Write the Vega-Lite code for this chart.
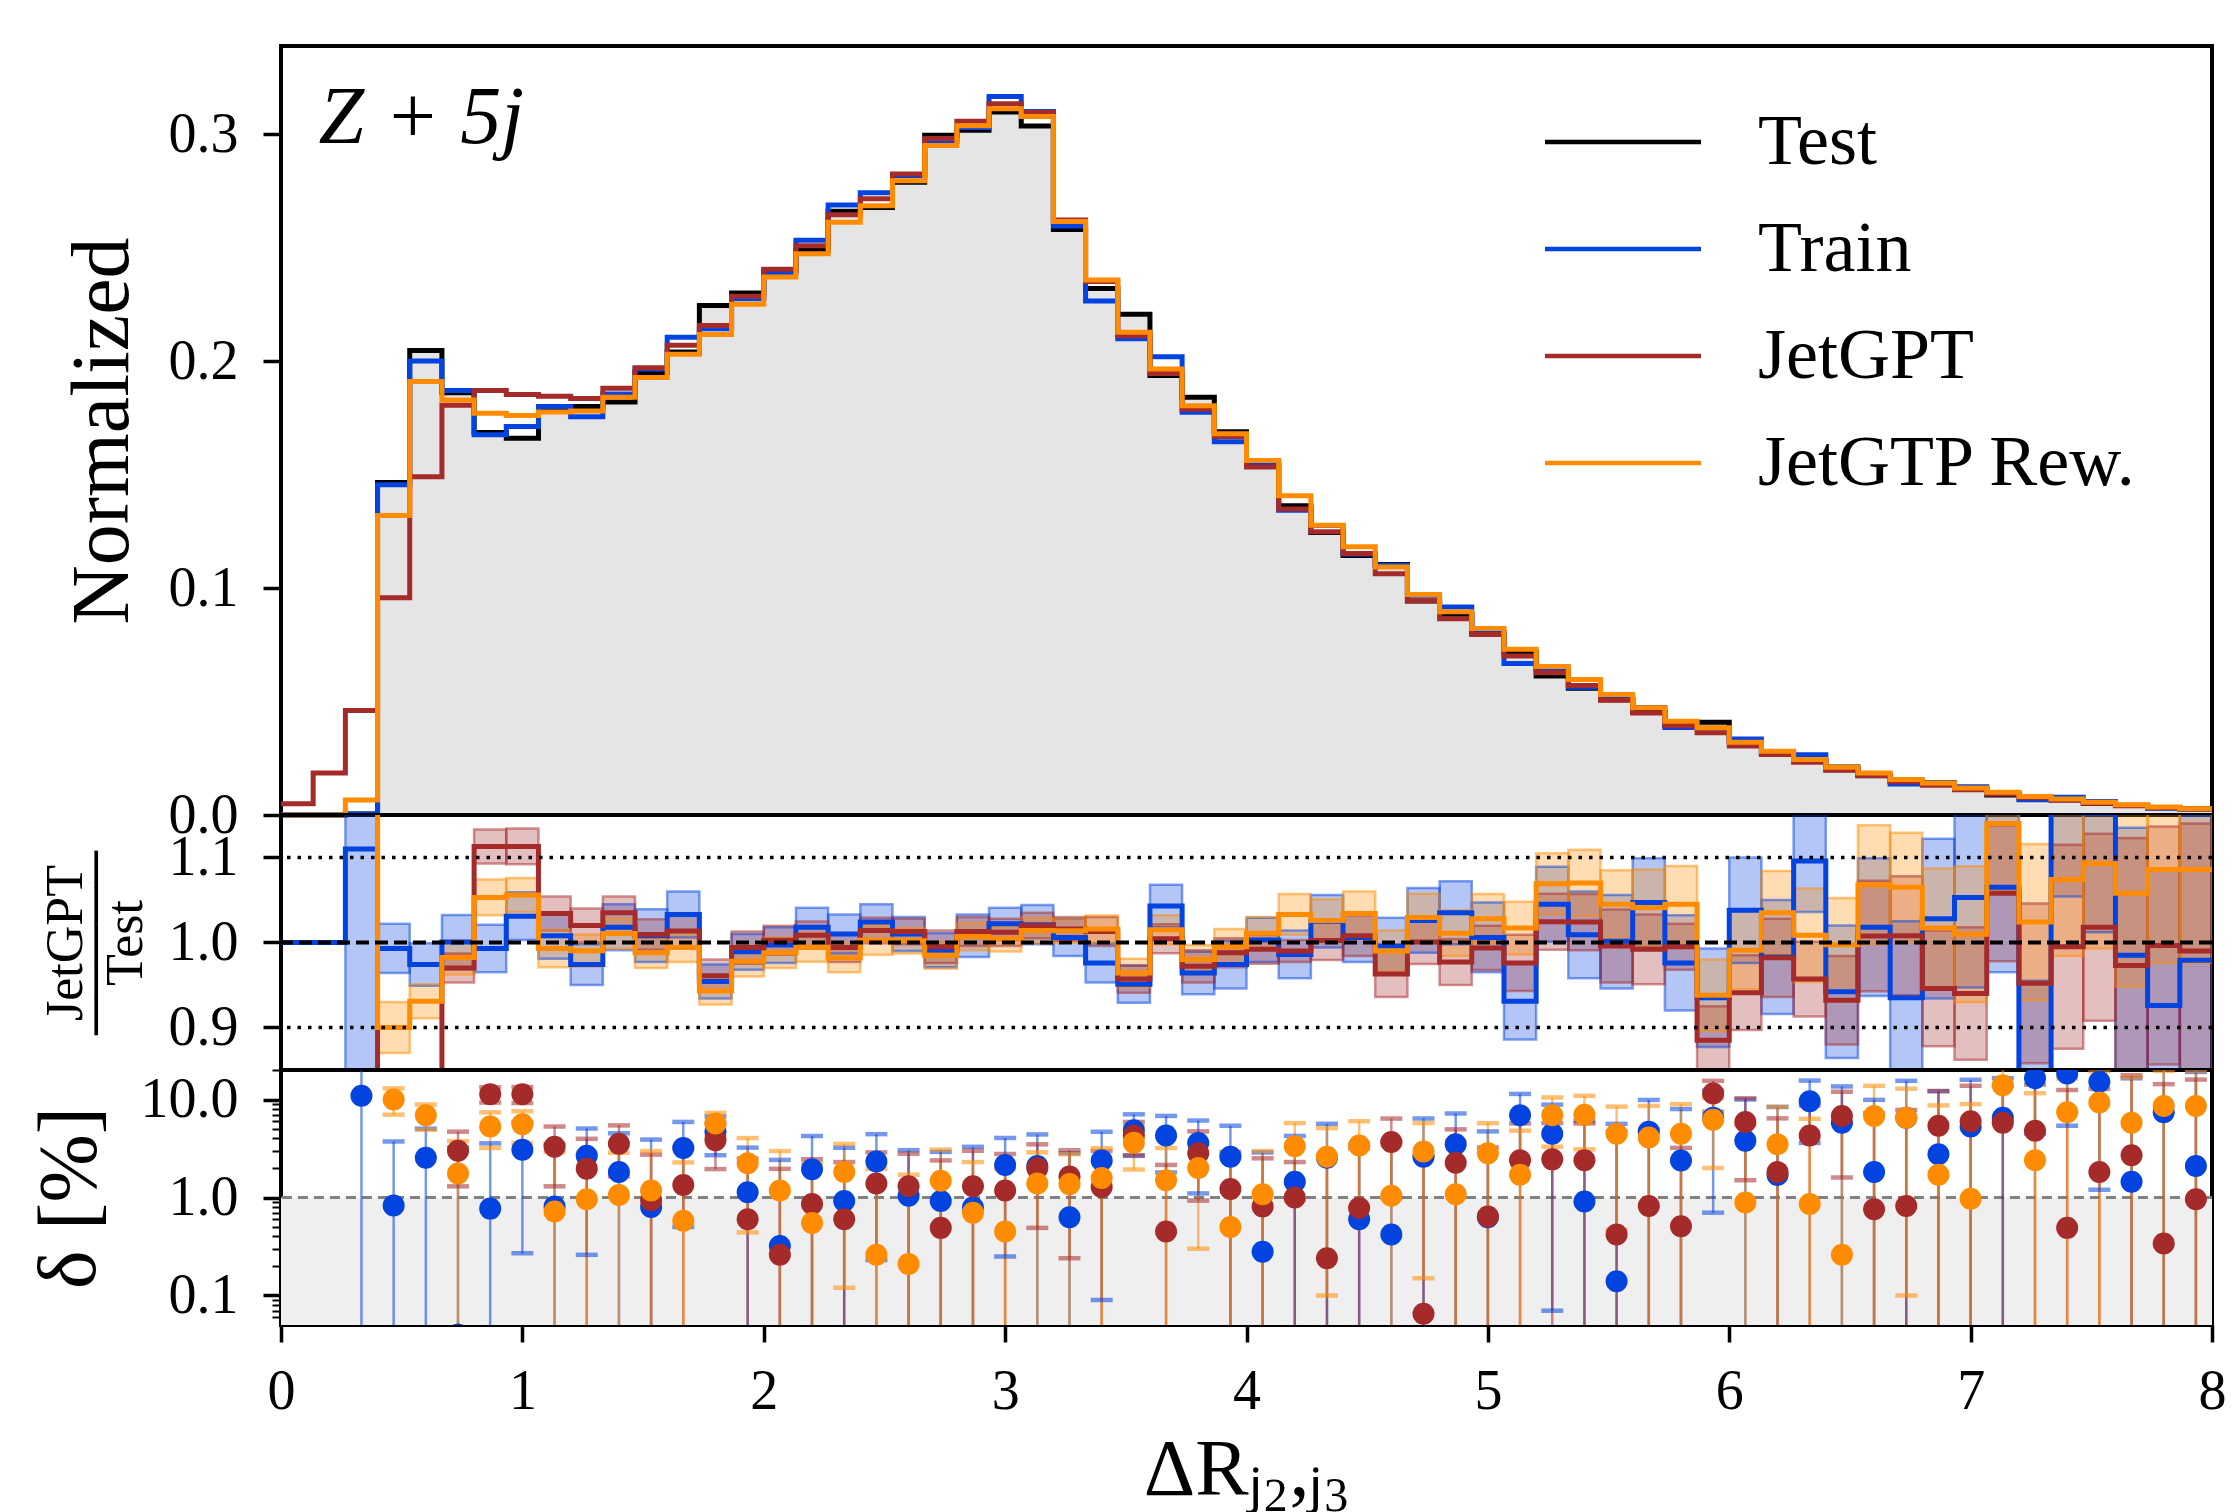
{
"$schema":"https://vega.github.io/schema/vega-lite/v6.json",
"background":"white",
"padding":{"left":26,"top":44,"right":21,"bottom":0},
"spacing":0,
"bounds":"flush",
"config":{
 "font":"Liberation Serif",
 "view":{"stroke":"black","strokeWidth":4},
 "axis":{"labelFont":"Liberation Serif","titleFont":"Liberation Serif","labelFontSize":56,"labelColor":"black","titleColor":"black","titleFontWeight":"normal","tickColor":"black","tickWidth":3.5,"tickSize":18,"domain":false,"grid":false,"labelPadding":25,"labelFlush":false,"labelOverlap":false},
 "legend":{"labelFont":"Liberation Serif","labelColor":"black"}
},
"resolve":{"scale":{"x":"shared","y":"independent","color":"independent"},"legend":{"color":"independent"}},
"datasets":{
"h":[
{"x":0,"Test":0,"Train":0,"JetGPT":0.005,"Rew":0},
{"x":0.1333,"Test":0,"Train":0,"JetGPT":0.0185,"Rew":0},
{"x":0.2667,"Test":0.0004,"Train":0.0004,"JetGPT":0.046,"Rew":0.0066},
{"x":0.4,"Test":0.1465,"Train":0.1455,"JetGPT":0.0957,"Rew":0.132},
{"x":0.5333,"Test":0.2047,"Train":0.2,"JetGPT":0.149,"Rew":0.191},
{"x":0.6667,"Test":0.186,"Train":0.187,"JetGPT":0.1805,"Rew":0.1828},
{"x":0.8,"Test":0.1685,"Train":0.1675,"JetGPT":0.187,"Rew":0.177},
{"x":0.9333,"Test":0.166,"Train":0.1712,"JetGPT":0.1853,"Rew":0.176},
{"x":1.0667,"Test":0.1787,"Train":0.18,"JetGPT":0.1845,"Rew":0.1775},
{"x":1.2,"Test":0.18,"Train":0.1755,"JetGPT":0.1835,"Rew":0.178},
{"x":1.3333,"Test":0.182,"Train":0.1855,"JetGPT":0.188,"Rew":0.184},
{"x":1.4667,"Test":0.195,"Train":0.1965,"JetGPT":0.197,"Rew":0.1927},
{"x":1.6,"Test":0.204,"Train":0.2105,"JetGPT":0.207,"Rew":0.203},
{"x":1.7333,"Test":0.2245,"Train":0.2142,"JetGPT":0.2157,"Rew":0.2117},
{"x":1.8667,"Test":0.23,"Train":0.2275,"JetGPT":0.2286,"Rew":0.225},
{"x":2.0,"Test":0.2398,"Train":0.239,"JetGPT":0.2404,"Rew":0.237},
{"x":2.1333,"Test":0.2487,"Train":0.2532,"JetGPT":0.2508,"Rew":0.2473},
{"x":2.2667,"Test":0.266,"Train":0.2687,"JetGPT":0.2645,"Rew":0.2612},
{"x":2.4,"Test":0.2677,"Train":0.2742,"JetGPT":0.2715,"Rew":0.2684},
{"x":2.5333,"Test":0.2788,"Train":0.2816,"JetGPT":0.2824,"Rew":0.2794},
{"x":2.6667,"Test":0.2995,"Train":0.2968,"JetGPT":0.298,"Rew":0.295},
{"x":2.8,"Test":0.3017,"Train":0.3029,"JetGPT":0.3056,"Rew":0.3037},
{"x":2.9333,"Test":0.3097,"Train":0.3165,"JetGPT":0.3134,"Rew":0.3111},
{"x":3.0667,"Test":0.3035,"Train":0.3099,"JetGPT":0.3096,"Rew":0.3077},
{"x":3.2,"Test":0.258,"Train":0.2595,"JetGPT":0.2621,"Rew":0.2615},
{"x":3.3333,"Test":0.232,"Train":0.2264,"JetGPT":0.235,"Rew":0.2357},
{"x":3.4667,"Test":0.2206,"Train":0.2098,"JetGPT":0.2111,"Rew":0.2127},
{"x":3.6,"Test":0.1936,"Train":0.2019,"JetGPT":0.1945,"Rew":0.1965},
{"x":3.7333,"Test":0.184,"Train":0.1774,"JetGPT":0.1788,"Rew":0.1803},
{"x":3.8667,"Test":0.1688,"Train":0.1644,"JetGPT":0.1668,"Rew":0.168},
{"x":4.0,"Test":0.1545,"Train":0.155,"JetGPT":0.1533,"Rew":0.1562},
{"x":4.1333,"Test":0.1362,"Train":0.1343,"JetGPT":0.1348,"Rew":0.1407},
{"x":4.2667,"Test":0.1245,"Train":0.1276,"JetGPT":0.1248,"Rew":0.1277},
{"x":4.4,"Test":0.1143,"Train":0.115,"JetGPT":0.1152,"Rew":0.1182},
{"x":4.5333,"Test":0.1104,"Train":0.11,"JetGPT":0.1063,"Rew":0.1093},
{"x":4.6667,"Test":0.0943,"Train":0.0968,"JetGPT":0.0944,"Rew":0.0971},
{"x":4.8,"Test":0.0885,"Train":0.0916,"JetGPT":0.0865,"Rew":0.0895},
{"x":4.9333,"Test":0.08,"Train":0.0805,"JetGPT":0.0795,"Rew":0.0822},
{"x":5.0667,"Test":0.0718,"Train":0.0668,"JetGPT":0.0701,"Rew":0.073},
{"x":5.2,"Test":0.0612,"Train":0.064,"JetGPT":0.0627,"Rew":0.0654},
{"x":5.3333,"Test":0.0558,"Train":0.0563,"JetGPT":0.0571,"Rew":0.0597},
{"x":5.4667,"Test":0.0508,"Train":0.0509,"JetGPT":0.0506,"Rew":0.0531},
{"x":5.6,"Test":0.0453,"Train":0.0474,"JetGPT":0.0449,"Rew":0.0472},
{"x":5.7333,"Test":0.0395,"Train":0.0386,"JetGPT":0.0393,"Rew":0.0413},
{"x":5.8667,"Test":0.0409,"Train":0.0382,"JetGPT":0.0362,"Rew":0.0384},
{"x":6.0,"Test":0.0323,"Train":0.0335,"JetGPT":0.0304,"Rew":0.032},
{"x":6.1333,"Test":0.0271,"Train":0.0266,"JetGPT":0.0266,"Rew":0.0281},
{"x":6.2667,"Test":0.0242,"Train":0.0265,"JetGPT":0.0232,"Rew":0.0244},
{"x":6.4,"Test":0.0211,"Train":0.0199,"JetGPT":0.0197,"Rew":0.021},
{"x":6.5333,"Test":0.0173,"Train":0.0176,"JetGPT":0.0174,"Rew":0.0185},
{"x":6.6667,"Test":0.0146,"Train":0.0137,"JetGPT":0.0147,"Rew":0.0156},
{"x":6.8,"Test":0.0139,"Train":0.0143,"JetGPT":0.0131,"Rew":0.0141},
{"x":6.9333,"Test":0.0118,"Train":0.0124,"JetGPT":0.0111,"Rew":0.0119},
{"x":7.0667,"Test":0.0088,"Train":0.0094,"JetGPT":0.0093,"Rew":0.01},
{"x":7.2,"Test":0.008,"Train":0.0067,"JetGPT":0.0076,"Rew":0.0082},
{"x":7.3333,"Test":0.0066,"Train":0.0078,"JetGPT":0.0066,"Rew":0.0071},
{"x":7.4667,"Test":0.0051,"Train":0.0059,"JetGPT":0.0052,"Rew":0.0056},
{"x":7.6,"Test":0.00425,"Train":0.0042,"JetGPT":0.0041,"Rew":0.0045},
{"x":7.7333,"Test":0.0032,"Train":0.003,"JetGPT":0.0032,"Rew":0.0035},
{"x":7.8667,"Test":0.0026,"Train":0.0025,"JetGPT":0.0026,"Rew":0.0028},
{"x":8.0,"Test":0.0026,"Train":0.0025,"JetGPT":0.0026,"Rew":0.0028}
],
"r":[
{"s":"Train","x0":0,"x1":0.1333,"xc":0.0667,"r":1.0},
{"s":"Train","x0":0.1333,"x1":0.2667,"xc":0.2,"r":1.0},
{"s":"Train","x0":0.2667,"x1":0.4,"xc":0.3333,"r":1.11,"rl":0.6,"rh":1.6,"d":10.9,"dl":0.001,"dh":60},
{"s":"Train","x0":0.4,"x1":0.5333,"xc":0.4667,"r":0.993,"rl":0.964,"rh":1.022,"d":0.83,"dl":0.001,"dh":3.73},
{"s":"Train","x0":0.5333,"x1":0.6667,"xc":0.6,"r":0.974,"rl":0.949,"rh":0.999,"d":2.54,"dl":0.04,"dh":5.04},
{"s":"Train","x0":0.6667,"x1":0.8,"xc":0.7333,"r":1.0005,"rl":0.9685,"rh":1.0325,"d":0.04,"dl":0.001,"dh":3.24},
{"s":"Train","x0":0.8,"x1":0.9333,"xc":0.8667,"r":0.993,"rl":0.965,"rh":1.021,"d":0.77,"dl":0.001,"dh":3.57},
{"s":"Train","x0":0.9333,"x1":1.0667,"xc":1.0,"r":1.031,"rl":1.003,"rh":1.059,"d":3.07,"dl":0.27,"dh":5.87},
{"s":"Train","x0":1.0667,"x1":1.2,"xc":1.1333,"r":1.008,"rl":0.981,"rh":1.035,"d":0.81,"dl":0.001,"dh":3.51},
{"s":"Train","x0":1.2,"x1":1.3333,"xc":1.2667,"r":0.974,"rl":0.95,"rh":0.998,"d":2.66,"dl":0.26,"dh":5.06},
{"s":"Train","x0":1.3333,"x1":1.4667,"xc":1.4,"r":1.018,"rl":0.991,"rh":1.045,"d":1.82,"dl":0.001,"dh":4.52},
{"s":"Train","x0":1.4667,"x1":1.6,"xc":1.5333,"r":1.008,"rl":0.977,"rh":1.039,"d":0.8,"dl":0.001,"dh":3.9},
{"s":"Train","x0":1.6,"x1":1.7333,"xc":1.6667,"r":1.033,"rl":1.006,"rh":1.06,"d":3.2,"dl":0.5,"dh":5.9},
{"s":"Train","x0":1.7333,"x1":1.8667,"xc":1.8,"r":0.954,"rl":0.934,"rh":0.974,"d":4.7,"dl":2.7,"dh":6.7},
{"s":"Train","x0":1.8667,"x1":2.0,"xc":1.9333,"r":0.989,"rl":0.968,"rh":1.01,"d":1.13,"dl":0.001,"dh":3.23},
{"s":"Train","x0":2.0,"x1":2.1333,"xc":2.0667,"r":0.997,"rl":0.976,"rh":1.018,"d":0.32,"dl":0.001,"dh":2.42},
{"s":"Train","x0":2.1333,"x1":2.2667,"xc":2.2,"r":1.018,"rl":0.995,"rh":1.041,"d":1.94,"dl":0.001,"dh":4.24},
{"s":"Train","x0":2.2667,"x1":2.4,"xc":2.3333,"r":1.01,"rl":0.987,"rh":1.033,"d":0.92,"dl":0.001,"dh":3.22},
{"s":"Train","x0":2.4,"x1":2.5333,"xc":2.4667,"r":1.024,"rl":1.003,"rh":1.045,"d":2.33,"dl":0.23,"dh":4.43},
{"s":"Train","x0":2.5333,"x1":2.6667,"xc":2.6,"r":1.01,"rl":0.99,"rh":1.03,"d":1.04,"dl":0.001,"dh":3.04},
{"s":"Train","x0":2.6667,"x1":2.8,"xc":2.7333,"r":0.991,"rl":0.971,"rh":1.011,"d":0.92,"dl":0.001,"dh":2.92},
{"s":"Train","x0":2.8,"x1":2.9333,"xc":2.8667,"r":1.008,"rl":0.983,"rh":1.033,"d":0.79,"dl":0.001,"dh":3.29},
{"s":"Train","x0":2.9333,"x1":3.0667,"xc":3.0,"r":1.022,"rl":1.003,"rh":1.041,"d":2.15,"dl":0.25,"dh":4.05},
{"s":"Train","x0":3.0667,"x1":3.2,"xc":3.1333,"r":1.021,"rl":0.998,"rh":1.044,"d":2.1,"dl":0.001,"dh":4.4},
{"s":"Train","x0":3.2,"x1":3.3333,"xc":3.2667,"r":1.006,"rl":0.984,"rh":1.028,"d":0.63,"dl":0.001,"dh":2.83},
{"s":"Train","x0":3.3333,"x1":3.4667,"xc":3.4,"r":0.976,"rl":0.953,"rh":0.999,"d":2.39,"dl":0.09,"dh":4.69},
{"s":"Train","x0":3.4667,"x1":3.6,"xc":3.5333,"r":0.951,"rl":0.929,"rh":0.973,"d":4.86,"dl":2.66,"dh":7.06},
{"s":"Train","x0":3.6,"x1":3.7333,"xc":3.6667,"r":1.043,"rl":1.018,"rh":1.068,"d":4.3,"dl":1.8,"dh":6.8},
{"s":"Train","x0":3.7333,"x1":3.8667,"xc":3.8,"r":0.964,"rl":0.939,"rh":0.989,"d":3.6,"dl":1.1,"dh":6.1},
{"s":"Train","x0":3.8667,"x1":4.0,"xc":3.9333,"r":0.974,"rl":0.946,"rh":1.002,"d":2.6,"dl":0.001,"dh":5.4},
{"s":"Train","x0":4.0,"x1":4.1333,"xc":4.0667,"r":1.003,"rl":0.977,"rh":1.029,"d":0.28,"dl":0.001,"dh":2.88},
{"s":"Train","x0":4.1333,"x1":4.2667,"xc":4.2,"r":0.986,"rl":0.958,"rh":1.014,"d":1.45,"dl":0.001,"dh":4.25},
{"s":"Train","x0":4.2667,"x1":4.4,"xc":4.3333,"r":1.025,"rl":0.994,"rh":1.056,"d":2.55,"dl":0.001,"dh":5.65},
{"s":"Train","x0":4.4,"x1":4.5333,"xc":4.4667,"r":1.006,"rl":0.977,"rh":1.035,"d":0.6,"dl":0.001,"dh":3.5},
{"s":"Train","x0":4.5333,"x1":4.6667,"xc":4.6,"r":0.996,"rl":0.963,"rh":1.029,"d":0.42,"dl":0.001,"dh":3.72},
{"s":"Train","x0":4.6667,"x1":4.8,"xc":4.7333,"r":1.026,"rl":0.988,"rh":1.064,"d":2.6,"dl":0.001,"dh":6.4},
{"s":"Train","x0":4.8,"x1":4.9333,"xc":4.8667,"r":1.035,"rl":0.998,"rh":1.072,"d":3.5,"dl":0.001,"dh":7.2},
{"s":"Train","x0":4.9333,"x1":5.0667,"xc":5.0,"r":1.006,"rl":0.965,"rh":1.047,"d":0.63,"dl":0.001,"dh":4.73},
{"s":"Train","x0":5.0667,"x1":5.2,"xc":5.1333,"r":0.931,"rl":0.886,"rh":0.976,"d":6.9,"dl":2.4,"dh":11.4},
{"s":"Train","x0":5.2,"x1":5.3333,"xc":5.2667,"r":1.045,"rl":1.001,"rh":1.089,"d":4.47,"dl":0.07,"dh":8.87},
{"s":"Train","x0":5.3333,"x1":5.4667,"xc":5.4,"r":1.009,"rl":0.958,"rh":1.06,"d":0.91,"dl":0.001,"dh":6.01},
{"s":"Train","x0":5.4667,"x1":5.6,"xc":5.5333,"r":1.0014,"rl":0.946,"rh":1.056,"d":0.14,"dl":0.001,"dh":5.64},
{"s":"Train","x0":5.6,"x1":5.7333,"xc":5.6667,"r":1.047,"rl":0.995,"rh":1.099,"d":4.7,"dl":0.001,"dh":9.9},
{"s":"Train","x0":5.7333,"x1":5.8667,"xc":5.8,"r":0.976,"rl":0.92,"rh":1.032,"d":2.39,"dl":0.001,"dh":7.99},
{"s":"Train","x0":5.8667,"x1":6.0,"xc":5.9333,"r":0.935,"rl":0.877,"rh":0.993,"d":6.5,"dl":0.7,"dh":12.3},
{"s":"Train","x0":6.0,"x1":6.1333,"xc":6.0667,"r":1.038,"rl":0.976,"rh":1.1,"d":3.8,"dl":0.001,"dh":10.0},
{"s":"Train","x0":6.1333,"x1":6.2667,"xc":6.2,"r":0.983,"rl":0.916,"rh":1.05,"d":1.7,"dl":0.001,"dh":8.4},
{"s":"Train","x0":6.2667,"x1":6.4,"xc":6.3333,"r":1.096,"rl":1.036,"rh":1.156,"d":9.6,"dl":3.6,"dh":15.6},
{"s":"Train","x0":6.4,"x1":6.5333,"xc":6.4667,"r":0.942,"rl":0.864,"rh":1.02,"d":5.8,"dl":0.001,"dh":13.6},
{"s":"Train","x0":6.5333,"x1":6.6667,"xc":6.6,"r":1.018,"rl":0.937,"rh":1.099,"d":1.82,"dl":0.001,"dh":9.92},
{"s":"Train","x0":6.6667,"x1":6.8,"xc":6.7333,"r":0.935,"rl":0.845,"rh":1.025,"d":6.5,"dl":0.001,"dh":15.5},
{"s":"Train","x0":6.8,"x1":6.9333,"xc":6.8667,"r":1.028,"rl":0.934,"rh":1.122,"d":2.76,"dl":0.001,"dh":12.16},
{"s":"Train","x0":6.9333,"x1":7.0667,"xc":7.0,"r":1.053,"rl":0.947,"rh":1.159,"d":5.3,"dl":0.001,"dh":15.9},
{"s":"Train","x0":7.0667,"x1":7.2,"xc":7.1333,"r":1.065,"rl":0.965,"rh":1.165,"d":6.5,"dl":0.001,"dh":16.5},
{"s":"Train","x0":7.2,"x1":7.3333,"xc":7.2667,"r":0.835,"rl":0.715,"rh":0.955,"d":16.5,"dl":4.5,"dh":28.5},
{"s":"Train","x0":7.3333,"x1":7.4667,"xc":7.4,"r":1.184,"rl":1.054,"rh":1.314,"d":18.4,"dl":5.4,"dh":31.4},
{"s":"Train","x0":7.4667,"x1":7.6,"xc":7.5333,"r":1.152,"rl":1.012,"rh":1.292,"d":15.2,"dl":1.2,"dh":29.2},
{"s":"Train","x0":7.6,"x1":7.7333,"xc":7.6667,"r":0.985,"rl":0.835,"rh":1.135,"d":1.45,"dl":0.001,"dh":16.45},
{"s":"Train","x0":7.7333,"x1":7.8667,"xc":7.8,"r":0.926,"rl":0.766,"rh":1.086,"d":7.4,"dl":0.001,"dh":23.4},
{"s":"Train","x0":7.8667,"x1":8.0,"xc":7.9333,"r":0.979,"rl":0.809,"rh":1.149,"d":2.1,"dl":0.001,"dh":19.1},
{"s":"Train","x0":8.0,"r":0.979},
{"s":"JetGPT","x0":0.2667,"x1":0.4,"xc":0.3333,"r":2.0},
{"s":"JetGPT","x0":0.4,"x1":0.5333,"xc":0.4667,"r":0.65,"rl":0.63,"rh":0.67,"d":35,"dl":33,"dh":37},
{"s":"JetGPT","x0":0.5333,"x1":0.6667,"xc":0.6,"r":0.73,"rl":0.71,"rh":0.75,"d":27,"dl":25,"dh":29},
{"s":"JetGPT","x0":0.6667,"x1":0.8,"xc":0.7333,"r":0.97,"rl":0.953,"rh":0.987,"d":3.0,"dl":1.3,"dh":4.7},
{"s":"JetGPT","x0":0.8,"x1":0.9333,"xc":0.8667,"r":1.113,"rl":1.093,"rh":1.133,"d":11.3,"dl":9.3,"dh":13.3},
{"s":"JetGPT","x0":0.9333,"x1":1.0667,"xc":1.0,"r":1.113,"rl":1.092,"rh":1.134,"d":11.3,"dl":9.2,"dh":13.4},
{"s":"JetGPT","x0":1.0667,"x1":1.2,"xc":1.1333,"r":1.034,"rl":1.014,"rh":1.054,"d":3.3,"dl":1.3,"dh":5.3},
{"s":"JetGPT","x0":1.2,"x1":1.3333,"xc":1.2667,"r":1.02,"rl":1.0,"rh":1.04,"d":1.97,"dl":0.001,"dh":3.97},
{"s":"JetGPT","x0":1.3333,"x1":1.4667,"xc":1.4,"r":1.035,"rl":1.016,"rh":1.054,"d":3.54,"dl":1.64,"dh":5.44},
{"s":"JetGPT","x0":1.4667,"x1":1.6,"xc":1.5333,"r":1.0095,"rl":0.9915,"rh":1.0275,"d":0.94,"dl":0.001,"dh":2.74},
{"s":"JetGPT","x0":1.6,"x1":1.7333,"xc":1.6667,"r":1.0135,"rl":0.9945,"rh":1.0325,"d":1.34,"dl":0.001,"dh":3.24},
{"s":"JetGPT","x0":1.7333,"x1":1.8667,"xc":1.8,"r":0.961,"rl":0.942,"rh":0.98,"d":3.85,"dl":1.95,"dh":5.75},
{"s":"JetGPT","x0":1.8667,"x1":2.0,"xc":1.9333,"r":0.994,"rl":0.975,"rh":1.013,"d":0.6,"dl":0.001,"dh":2.5},
{"s":"JetGPT","x0":2.0,"x1":2.1333,"xc":2.0667,"r":1.0026,"rl":0.9856,"rh":1.0196,"d":0.26,"dl":0.001,"dh":1.96},
{"s":"JetGPT","x0":2.1333,"x1":2.2667,"xc":2.2,"r":1.0086,"rl":0.9926,"rh":1.0246,"d":0.86,"dl":0.001,"dh":2.46},
{"s":"JetGPT","x0":2.2667,"x1":2.4,"xc":2.3333,"r":0.994,"rl":0.977,"rh":1.011,"d":0.6,"dl":0.001,"dh":2.3},
{"s":"JetGPT","x0":2.4,"x1":2.5333,"xc":2.4667,"r":1.014,"rl":0.999,"rh":1.029,"d":1.39,"dl":0.001,"dh":2.89},
{"s":"JetGPT","x0":2.5333,"x1":2.6667,"xc":2.6,"r":1.013,"rl":0.998,"rh":1.028,"d":1.3,"dl":0.001,"dh":2.8},
{"s":"JetGPT","x0":2.6667,"x1":2.8,"xc":2.7333,"r":0.995,"rl":0.976,"rh":1.014,"d":0.49,"dl":0.001,"dh":2.39},
{"s":"JetGPT","x0":2.8,"x1":2.9333,"xc":2.8667,"r":1.013,"rl":0.996,"rh":1.03,"d":1.3,"dl":0.001,"dh":3.0},
{"s":"JetGPT","x0":2.9333,"x1":3.0667,"xc":3.0,"r":1.012,"rl":0.996,"rh":1.028,"d":1.18,"dl":0.001,"dh":2.78},
{"s":"JetGPT","x0":3.0667,"x1":3.2,"xc":3.1333,"r":1.02,"rl":1.005,"rh":1.035,"d":1.99,"dl":0.49,"dh":3.49},
{"s":"JetGPT","x0":3.2,"x1":3.3333,"xc":3.2667,"r":1.016,"rl":1.002,"rh":1.03,"d":1.64,"dl":0.24,"dh":3.04},
{"s":"JetGPT","x0":3.3333,"x1":3.4667,"xc":3.4,"r":1.013,"rl":0.996,"rh":1.03,"d":1.28,"dl":0.001,"dh":2.98},
{"s":"JetGPT","x0":3.4667,"x1":3.6,"xc":3.5333,"r":0.957,"rl":0.941,"rh":0.973,"d":4.3,"dl":2.7,"dh":5.9},
{"s":"JetGPT","x0":3.6,"x1":3.7333,"xc":3.6667,"r":1.0045,"rl":0.9875,"rh":1.0215,"d":0.45,"dl":0.001,"dh":2.15},
{"s":"JetGPT","x0":3.7333,"x1":3.8667,"xc":3.8,"r":0.972,"rl":0.953,"rh":0.991,"d":2.83,"dl":0.93,"dh":4.73},
{"s":"JetGPT","x0":3.8667,"x1":4.0,"xc":3.9333,"r":0.988,"rl":0.971,"rh":1.005,"d":1.22,"dl":0.001,"dh":2.92},
{"s":"JetGPT","x0":4.0,"x1":4.1333,"xc":4.0667,"r":0.992,"rl":0.975,"rh":1.009,"d":0.81,"dl":0.001,"dh":2.51},
{"s":"JetGPT","x0":4.1333,"x1":4.2667,"xc":4.2,"r":0.99,"rl":0.977,"rh":1.003,"d":1.0,"dl":0.001,"dh":2.3},
{"s":"JetGPT","x0":4.2667,"x1":4.4,"xc":4.3333,"r":1.0024,"rl":0.9794,"rh":1.0254,"d":0.24,"dl":0.001,"dh":2.54},
{"s":"JetGPT","x0":4.4,"x1":4.5333,"xc":4.4667,"r":1.008,"rl":0.984,"rh":1.032,"d":0.78,"dl":0.001,"dh":3.18},
{"s":"JetGPT","x0":4.5333,"x1":4.6667,"xc":4.6,"r":0.963,"rl":0.936,"rh":0.99,"d":3.69,"dl":0.99,"dh":6.39},
{"s":"JetGPT","x0":4.6667,"x1":4.8,"xc":4.7333,"r":1.0007,"rl":0.9747,"rh":1.0267,"d":0.065,"dl":0.001,"dh":2.67},
{"s":"JetGPT","x0":4.8,"x1":4.9333,"xc":4.8667,"r":0.977,"rl":0.95,"rh":1.004,"d":2.26,"dl":0.001,"dh":4.96},
{"s":"JetGPT","x0":4.9333,"x1":5.0667,"xc":5.0,"r":0.9936,"rl":0.9676,"rh":1.0196,"d":0.64,"dl":0.001,"dh":3.24},
{"s":"JetGPT","x0":5.0667,"x1":5.2,"xc":5.1333,"r":0.976,"rl":0.943,"rh":1.009,"d":2.4,"dl":0.001,"dh":5.7},
{"s":"JetGPT","x0":5.2,"x1":5.3333,"xc":5.2667,"r":1.0245,"rl":0.9915,"rh":1.0575,"d":2.45,"dl":0.001,"dh":5.75},
{"s":"JetGPT","x0":5.3333,"x1":5.4667,"xc":5.4,"r":1.024,"rl":0.991,"rh":1.057,"d":2.4,"dl":0.001,"dh":5.7},
{"s":"JetGPT","x0":5.4667,"x1":5.6,"xc":5.5333,"r":0.9958,"rl":0.9528,"rh":1.0388,"d":0.42,"dl":0.001,"dh":4.72},
{"s":"JetGPT","x0":5.6,"x1":5.7333,"xc":5.6667,"r":0.992,"rl":0.951,"rh":1.033,"d":0.82,"dl":0.001,"dh":4.92},
{"s":"JetGPT","x0":5.7333,"x1":5.8667,"xc":5.8,"r":0.995,"rl":0.968,"rh":1.022,"d":0.51,"dl":0.001,"dh":3.21},
{"s":"JetGPT","x0":5.8667,"x1":6.0,"xc":5.9333,"r":0.885,"rl":0.845,"rh":0.925,"d":11.5,"dl":7.5,"dh":15.5},
{"s":"JetGPT","x0":6.0,"x1":6.1333,"xc":6.0667,"r":0.941,"rl":0.897,"rh":0.985,"d":5.9,"dl":1.5,"dh":10.3},
{"s":"JetGPT","x0":6.1333,"x1":6.2667,"xc":6.2,"r":0.982,"rl":0.936,"rh":1.028,"d":1.82,"dl":0.001,"dh":6.42},
{"s":"JetGPT","x0":6.2667,"x1":6.4,"xc":6.3333,"r":0.957,"rl":0.913,"rh":1.001,"d":4.3,"dl":0.001,"dh":8.7},
{"s":"JetGPT","x0":6.4,"x1":6.5333,"xc":6.4667,"r":0.932,"rl":0.88,"rh":0.984,"d":6.8,"dl":1.6,"dh":12.0},
{"s":"JetGPT","x0":6.5333,"x1":6.6667,"xc":6.6,"r":1.0076,"rl":0.9426,"rh":1.0726,"d":0.76,"dl":0.001,"dh":7.26},
{"s":"JetGPT","x0":6.6667,"x1":6.8,"xc":6.7333,"r":1.008,"rl":0.938,"rh":1.078,"d":0.82,"dl":0.001,"dh":7.82},
{"s":"JetGPT","x0":6.8,"x1":6.9333,"xc":6.8667,"r":0.946,"rl":0.878,"rh":1.014,"d":5.4,"dl":0.001,"dh":12.2},
{"s":"JetGPT","x0":6.9333,"x1":7.0667,"xc":7.0,"r":0.94,"rl":0.862,"rh":1.018,"d":6.0,"dl":0.001,"dh":13.8},
{"s":"JetGPT","x0":7.0667,"x1":7.2,"xc":7.1333,"r":1.058,"rl":0.978,"rh":1.138,"d":5.8,"dl":0.001,"dh":13.8},
{"s":"JetGPT","x0":7.2,"x1":7.3333,"xc":7.2667,"r":0.952,"rl":0.858,"rh":1.046,"d":4.8,"dl":0.001,"dh":14.2},
{"s":"JetGPT","x0":7.3333,"x1":7.4667,"xc":7.4,"r":0.995,"rl":0.875,"rh":1.115,"d":0.49,"dl":0.001,"dh":12.49},
{"s":"JetGPT","x0":7.4667,"x1":7.6,"xc":7.5333,"r":1.018,"rl":0.908,"rh":1.128,"d":1.82,"dl":0.001,"dh":12.82},
{"s":"JetGPT","x0":7.6,"x1":7.7333,"xc":7.6667,"r":0.973,"rl":0.823,"rh":1.123,"d":2.7,"dl":0.001,"dh":17.7},
{"s":"JetGPT","x0":7.7333,"x1":7.8667,"xc":7.8,"r":0.9966,"rl":0.8566,"rh":1.1366,"d":0.34,"dl":0.001,"dh":14.34},
{"s":"JetGPT","x0":7.8667,"x1":8.0,"xc":7.9333,"r":0.99,"rl":0.84,"rh":1.14,"d":0.96,"dl":0.001,"dh":15.96},
{"s":"JetGPT","x0":8.0,"r":0.99},
{"s":"Rew","x0":0.2667,"x1":0.4,"xc":0.3333,"r":2.0},
{"s":"Rew","x0":0.4,"x1":0.5333,"xc":0.4667,"r":0.9,"rl":0.87,"rh":0.93,"d":10.0,"dl":7.0,"dh":13.0},
{"s":"Rew","x0":0.5333,"x1":0.6667,"xc":0.6,"r":0.931,"rl":0.911,"rh":0.951,"d":6.9,"dl":4.9,"dh":8.9},
{"s":"Rew","x0":0.6667,"x1":0.8,"xc":0.7333,"r":0.9824,"rl":0.9624,"rh":1.0024,"d":1.76,"dl":0.001,"dh":3.76},
{"s":"Rew","x0":0.8,"x1":0.9333,"xc":0.8667,"r":1.053,"rl":1.032,"rh":1.074,"d":5.3,"dl":3.2,"dh":7.4},
{"s":"Rew","x0":0.9333,"x1":1.0667,"xc":1.0,"r":1.056,"rl":1.036,"rh":1.076,"d":5.6,"dl":3.6,"dh":7.6},
{"s":"Rew","x0":1.0667,"x1":1.2,"xc":1.1333,"r":0.9928,"rl":0.9708,"rh":1.0148,"d":0.72,"dl":0.001,"dh":2.92},
{"s":"Rew","x0":1.2,"x1":1.3333,"xc":1.2667,"r":0.9904,"rl":0.9714,"rh":1.0094,"d":0.96,"dl":0.001,"dh":2.86},
{"s":"Rew","x0":1.3333,"x1":1.4667,"xc":1.4,"r":1.0106,"rl":0.9926,"rh":1.0286,"d":1.06,"dl":0.001,"dh":2.86},
{"s":"Rew","x0":1.4667,"x1":1.6,"xc":1.5333,"r":0.988,"rl":0.97,"rh":1.006,"d":1.18,"dl":0.001,"dh":2.98},
{"s":"Rew","x0":1.6,"x1":1.7333,"xc":1.6667,"r":0.9942,"rl":0.9772,"rh":1.0112,"d":0.58,"dl":0.001,"dh":2.28},
{"s":"Rew","x0":1.7333,"x1":1.8667,"xc":1.8,"r":0.943,"rl":0.927,"rh":0.959,"d":5.7,"dl":4.1,"dh":7.3},
{"s":"Rew","x0":1.8667,"x1":2.0,"xc":1.9333,"r":0.978,"rl":0.96,"rh":0.996,"d":2.24,"dl":0.44,"dh":4.04},
{"s":"Rew","x0":2.0,"x1":2.1333,"xc":2.0667,"r":0.988,"rl":0.97,"rh":1.006,"d":1.18,"dl":0.001,"dh":2.98},
{"s":"Rew","x0":2.1333,"x1":2.2667,"xc":2.2,"r":0.9945,"rl":0.9775,"rh":1.0115,"d":0.55,"dl":0.001,"dh":2.25},
{"s":"Rew","x0":2.2667,"x1":2.4,"xc":2.3333,"r":0.982,"rl":0.965,"rh":0.999,"d":1.82,"dl":0.12,"dh":3.52},
{"s":"Rew","x0":2.4,"x1":2.5333,"xc":2.4667,"r":1.0026,"rl":0.9856,"rh":1.0196,"d":0.26,"dl":0.001,"dh":1.96},
{"s":"Rew","x0":2.5333,"x1":2.6667,"xc":2.6,"r":1.0021,"rl":0.9871,"rh":1.0171,"d":0.21,"dl":0.001,"dh":1.71},
{"s":"Rew","x0":2.6667,"x1":2.8,"xc":2.7333,"r":0.985,"rl":0.969,"rh":1.001,"d":1.48,"dl":0.001,"dh":3.08},
{"s":"Rew","x0":2.8,"x1":2.9333,"xc":2.8667,"r":1.007,"rl":0.991,"rh":1.023,"d":0.7,"dl":0.001,"dh":2.3},
{"s":"Rew","x0":2.9333,"x1":3.0667,"xc":3.0,"r":1.0045,"rl":0.9895,"rh":1.0195,"d":0.45,"dl":0.001,"dh":1.95},
{"s":"Rew","x0":3.0667,"x1":3.2,"xc":3.1333,"r":1.014,"rl":0.999,"rh":1.029,"d":1.39,"dl":0.001,"dh":2.89},
{"s":"Rew","x0":3.2,"x1":3.3333,"xc":3.2667,"r":1.0137,"rl":0.9997,"rh":1.0277,"d":1.37,"dl":0.001,"dh":2.77},
{"s":"Rew","x0":3.3333,"x1":3.4667,"xc":3.4,"r":1.0158,"rl":0.9998,"rh":1.0318,"d":1.58,"dl":0.001,"dh":3.18},
{"s":"Rew","x0":3.4667,"x1":3.6,"xc":3.5333,"r":0.964,"rl":0.947,"rh":0.981,"d":3.63,"dl":1.93,"dh":5.33},
{"s":"Rew","x0":3.6,"x1":3.7333,"xc":3.6667,"r":1.015,"rl":0.998,"rh":1.032,"d":1.5,"dl":0.001,"dh":3.2},
{"s":"Rew","x0":3.7333,"x1":3.8667,"xc":3.8,"r":0.98,"rl":0.963,"rh":0.997,"d":2.0,"dl":0.3,"dh":3.7},
{"s":"Rew","x0":3.8667,"x1":4.0,"xc":3.9333,"r":0.995,"rl":0.974,"rh":1.016,"d":0.5,"dl":0.001,"dh":2.6},
{"s":"Rew","x0":4.0,"x1":4.1333,"xc":4.0667,"r":1.011,"rl":0.992,"rh":1.03,"d":1.08,"dl":0.001,"dh":2.98},
{"s":"Rew","x0":4.1333,"x1":4.2667,"xc":4.2,"r":1.033,"rl":1.009,"rh":1.057,"d":3.34,"dl":0.94,"dh":5.74},
{"s":"Rew","x0":4.2667,"x1":4.4,"xc":4.3333,"r":1.026,"rl":1.001,"rh":1.051,"d":2.6,"dl":0.1,"dh":5.1},
{"s":"Rew","x0":4.4,"x1":4.5333,"xc":4.4667,"r":1.034,"rl":1.008,"rh":1.06,"d":3.4,"dl":0.8,"dh":6.0},
{"s":"Rew","x0":4.5333,"x1":4.6667,"xc":4.6,"r":0.99,"rl":0.966,"rh":1.014,"d":1.04,"dl":0.001,"dh":3.44},
{"s":"Rew","x0":4.6667,"x1":4.8,"xc":4.7333,"r":1.0295,"rl":1.0015,"rh":1.0575,"d":2.95,"dl":0.15,"dh":5.75},
{"s":"Rew","x0":4.8,"x1":4.9333,"xc":4.8667,"r":1.011,"rl":0.984,"rh":1.038,"d":1.08,"dl":0.001,"dh":3.78},
{"s":"Rew","x0":4.9333,"x1":5.0667,"xc":5.0,"r":1.028,"rl":0.999,"rh":1.057,"d":2.83,"dl":0.001,"dh":5.73},
{"s":"Rew","x0":5.0667,"x1":5.2,"xc":5.1333,"r":1.017,"rl":0.986,"rh":1.048,"d":1.71,"dl":0.001,"dh":4.81},
{"s":"Rew","x0":5.2,"x1":5.3333,"xc":5.2667,"r":1.069,"rl":1.033,"rh":1.105,"d":6.9,"dl":3.3,"dh":10.5},
{"s":"Rew","x0":5.3333,"x1":5.4667,"xc":5.4,"r":1.07,"rl":1.031,"rh":1.109,"d":7.0,"dl":3.1,"dh":10.9},
{"s":"Rew","x0":5.4667,"x1":5.6,"xc":5.5333,"r":1.045,"rl":1.005,"rh":1.085,"d":4.47,"dl":0.47,"dh":8.47},
{"s":"Rew","x0":5.6,"x1":5.7333,"xc":5.6667,"r":1.041,"rl":0.996,"rh":1.086,"d":4.1,"dl":0.001,"dh":8.6},
{"s":"Rew","x0":5.7333,"x1":5.8667,"xc":5.8,"r":1.045,"rl":1.0,"rh":1.09,"d":4.47,"dl":0.001,"dh":8.97},
{"s":"Rew","x0":5.8667,"x1":6.0,"xc":5.9333,"r":0.938,"rl":0.896,"rh":0.98,"d":6.2,"dl":2.0,"dh":10.4},
{"s":"Rew","x0":6.0,"x1":6.1333,"xc":6.0667,"r":0.991,"rl":0.945,"rh":1.037,"d":0.89,"dl":0.001,"dh":5.49},
{"s":"Rew","x0":6.1333,"x1":6.2667,"xc":6.2,"r":1.035,"rl":0.986,"rh":1.084,"d":3.5,"dl":0.001,"dh":8.4},
{"s":"Rew","x0":6.2667,"x1":6.4,"xc":6.3333,"r":1.0086,"rl":0.9536,"rh":1.0636,"d":0.86,"dl":0.001,"dh":6.36},
{"s":"Rew","x0":6.4,"x1":6.5333,"xc":6.4667,"r":0.9974,"rl":0.9424,"rh":1.0524,"d":0.26,"dl":0.001,"dh":5.76},
{"s":"Rew","x0":6.5333,"x1":6.6667,"xc":6.6,"r":1.068,"rl":0.998,"rh":1.138,"d":6.8,"dl":0.001,"dh":13.8},
{"s":"Rew","x0":6.6667,"x1":6.8,"xc":6.7333,"r":1.065,"rl":1.001,"rh":1.129,"d":6.5,"dl":0.1,"dh":12.9},
{"s":"Rew","x0":6.8,"x1":6.9333,"xc":6.8667,"r":1.017,"rl":0.947,"rh":1.087,"d":1.71,"dl":0.001,"dh":8.71},
{"s":"Rew","x0":6.9333,"x1":7.0667,"xc":7.0,"r":1.0097,"rl":0.9297,"rh":1.0897,"d":0.97,"dl":0.001,"dh":8.97},
{"s":"Rew","x0":7.0667,"x1":7.2,"xc":7.1333,"r":1.14,"rl":1.06,"rh":1.22,"d":14.0,"dl":6.0,"dh":22.0},
{"s":"Rew","x0":7.2,"x1":7.3333,"xc":7.2667,"r":1.024,"rl":0.932,"rh":1.116,"d":2.4,"dl":0.001,"dh":11.6},
{"s":"Rew","x0":7.3333,"x1":7.4667,"xc":7.4,"r":1.074,"rl":0.984,"rh":1.164,"d":7.4,"dl":0.001,"dh":16.4},
{"s":"Rew","x0":7.4667,"x1":7.6,"xc":7.5333,"r":1.093,"rl":0.993,"rh":1.193,"d":9.3,"dl":0.001,"dh":19.3},
{"s":"Rew","x0":7.6,"x1":7.7333,"xc":7.6667,"r":1.058,"rl":0.948,"rh":1.168,"d":5.8,"dl":0.001,"dh":16.8},
{"s":"Rew","x0":7.7333,"x1":7.8667,"xc":7.8,"r":1.086,"rl":0.976,"rh":1.196,"d":8.6,"dl":0.001,"dh":19.6},
{"s":"Rew","x0":7.8667,"x1":8.0,"xc":7.9333,"r":1.086,"rl":0.976,"rh":1.196,"d":8.6,"dl":0.001,"dh":19.6},
{"s":"Rew","x0":8.0,"r":1.086}
]
},
"vconcat":[
{"width":1931,"height":769,
 "layer":[
  {"data":{"name":"h"},"mark":{"type":"area","interpolate":"step-after","color":"#e5e5e5"},
   "encoding":{"x":{"field":"x","type":"quantitative","scale":{"domain":[0,8],"nice":false,"zero":false},"axis":null},
    "y":{"field":"Test","type":"quantitative","scale":{"domain":[0,0.3388],"nice":false},"axis":{"values":[0,0.1,0.2,0.3],"format":".1f","title":"Normalized","titleFontSize":82,"titlePadding":24}}}},
  {"data":{"name":"h"},"transform":[{"fold":["Test","Train","JetGPT","Rew"],"as":["s","v"]}],
   "mark":{"type":"line","interpolate":"step-after","strokeWidth":5},
   "encoding":{"x":{"field":"x","type":"quantitative"},"y":{"field":"v","type":"quantitative"},
    "color":{"field":"s","type":"nominal","scale":{"domain":["Test","Train","JetGPT","Rew"],"range":["#000000","#0343df","#a52a2a","#ff8c00"]},
     "legend":{"title":null,"orient":"none","legendX":1306,"legendY":60,"symbolType":"M-4,0H4","symbolSize":1521,"symbolStrokeWidth":4.5,"labelFontSize":72,"labelLimit":0,"labelOffset":99,"rowPadding":35,"padding":0,"labelExpr":"datum.label == 'Rew' ? 'JetGTP Rew.' : datum.label"}}}},
  {"data":{"values":[{}]},"mark":{"type":"text","font":"Liberation Serif","fontStyle":"italic","fontSize":82,"align":"left","baseline":"alphabetic","color":"black"},
   "encoding":{"x":{"datum":0.155},"y":{"datum":0.296},"text":{"value":"Z + 5j"}}}
 ]},
{"width":1931,"height":255,"data":{"name":"r"},
 "layer":[
  {"mark":{"type":"rect","fillOpacity":0.3,"strokeWidth":0,"clip":true},
   "encoding":{"x":{"field":"x0","type":"quantitative","scale":{"domain":[0,8],"nice":false,"zero":false},"axis":null},"x2":{"field":"x1"},
    "y":{"field":"rl","type":"quantitative","scale":{"domain":[0.85,1.15],"nice":false,"zero":false},"axis":{"values":[0.9,1.0,1.1],"format":".1f","title":["JetGPT","─────","Test"],"titleFontSize":52,"titleLineHeight":30,"titlePadding":16}},"y2":{"field":"rh"},
    "color":{"field":"s","type":"nominal","scale":{"domain":["Test","Train","JetGPT","Rew"],"range":["#000000","#0343df","#a52a2a","#ff8c00"]},"legend":null}}},
  {"mark":{"type":"rect","filled":false,"strokeWidth":2.5,"strokeOpacity":0.5,"clip":true},
   "encoding":{"x":{"field":"x0","type":"quantitative"},"x2":{"field":"x1"},"y":{"field":"rl","type":"quantitative"},"y2":{"field":"rh"},
    "color":{"field":"s","type":"nominal","legend":null}}},
  {"mark":{"type":"line","interpolate":"step-after","strokeWidth":5,"clip":true},
   "encoding":{"x":{"field":"x0","type":"quantitative"},"y":{"field":"r","type":"quantitative"},"color":{"field":"s","type":"nominal","legend":null}}},
  {"data":{"values":[{"g":0.9},{"g":1.1}]},"mark":{"type":"rule","color":"black","strokeWidth":3.5,"strokeDash":[3.5,7]},
   "encoding":{"y":{"field":"g","type":"quantitative"}}},
  {"data":{"values":[{}]},"mark":{"type":"rule","color":"black","strokeWidth":4,"strokeDash":[13,6]},
   "encoding":{"y":{"datum":1}}}
 ]},
{"width":1931,"height":255,"data":{"name":"r"},
 "resolve":{"axis":{"y":"independent"}},
 "layer":[
  {"data":{"values":[{}]},"mark":{"type":"rect","color":"#efefef"},
   "encoding":{"x":{"datum":0,"type":"quantitative","scale":{"domain":[0,8],"nice":false,"zero":false},"axis":{"values":[0,1,2,3,4,5,6,7,8],"format":"d","title":"ΔRⱼ₂,ⱼ₃","titleFontSize":80,"tickSize":17,"labelPadding":22,"titlePadding":12}},"x2":{"datum":8},
    "y":{"datum":0.05,"type":"quantitative","scale":{"type":"log","domain":[0.05,20],"nice":false},"axis":{"values":[0.1,1,10],"format":".1f","title":"δ [%]","titleFontSize":82,"titlePadding":29}},"y2":{"datum":1}}},
  {"data":{"values":[{}]},"mark":{"type":"rule","color":"#808080","strokeWidth":3,"strokeDash":[10,6]},
   "encoding":{"y":{"datum":1,"type":"quantitative","axis":{"values":[0.06,0.07,0.08,0.09,0.2,0.3,0.4,0.5,0.6,0.7,0.8,0.9,2,3,4,5,6,7,8,9,20],"labels":false,"tickSize":9,"tickWidth":2,"title":null,"orient":"left"}}}},
  {"mark":{"type":"rule","strokeWidth":2.5,"opacity":0.55,"clip":true},
   "encoding":{"x":{"field":"xc","type":"quantitative"},"y":{"field":"dl","type":"quantitative","axis":null},"y2":{"field":"dh"},
    "color":{"field":"s","type":"nominal","scale":{"domain":["Test","Train","JetGPT","Rew"],"range":["#000000","#0343df","#a52a2a","#ff8c00"]},"legend":null}}},
  {"mark":{"type":"tick","orient":"horizontal","size":22,"thickness":4.5,"opacity":0.55,"clip":true},
   "encoding":{"x":{"field":"xc","type":"quantitative"},"y":{"field":"dh","type":"quantitative","axis":null},"color":{"field":"s","type":"nominal","legend":null}}},
  {"mark":{"type":"tick","orient":"horizontal","size":22,"thickness":4.5,"opacity":0.55,"clip":true},
   "encoding":{"x":{"field":"xc","type":"quantitative"},"y":{"field":"dl","type":"quantitative","axis":null},"color":{"field":"s","type":"nominal","legend":null}}},
  {"mark":{"type":"point","filled":true,"size":484,"opacity":1,"clip":true},
   "encoding":{"x":{"field":"xc","type":"quantitative"},"y":{"field":"d","type":"quantitative","axis":null},"color":{"field":"s","type":"nominal","legend":null}}}
 ]}
]
}
